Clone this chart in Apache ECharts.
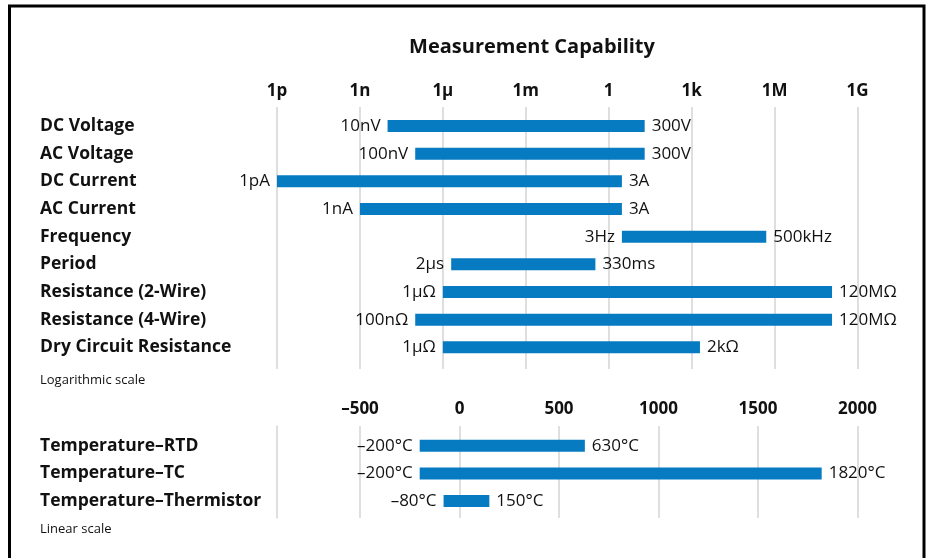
<!DOCTYPE html>
<html>
<head>
<meta charset="utf-8">
<script src="https://cdn.jsdelivr.net/npm/echarts@6/dist/echarts.min.js"></script>
<style>
html,body{margin:0;padding:0;background:#fff;}
#chart{width:927px;height:558px;}
</style>
</head>
<body>
<div id="chart"></div>
<script>
// ---------- data ----------
const logCategories = ['DC Voltage','AC Voltage','DC Current','AC Current','Frequency','Period','Resistance (2-Wire)','Resistance (4-Wire)','Dry Circuit Resistance'];
const logStarts = [1e-8, 1e-7, 1e-12, 1e-9, 3, 2e-6, 1e-6, 1e-7, 1e-6];
const logEnds   = [20, 20, 3, 3, 5e5, 0.33, 1.2e8, 1.2e8, 2e3];
const logLeftLabels  = ['10nV','100nV','1pA','1nA','3Hz','2µs','1µΩ','100nΩ','1µΩ'];
const logRightLabels = ['300V','300V','3A','3A','500kHz','330ms','120MΩ','120MΩ','2kΩ'];
const logTickLabels = ['1p','1n','1µ','1m','1','1k','1M','1G'];

const linCategories = ['Temperature–RTD','Temperature–TC','Temperature–Thermistor'];
const linStarts = [-200, -200, -80];
const linEnds   = [630, 1820, 150];
const linLeftLabels  = ['–200°C','–200°C','–80°C'];
const linRightLabels = ['630°C','1820°C','150°C'];

// ---------- style ----------
const FONT = '"Open Sans", "DejaVu Sans", sans-serif';
const BLUE = '#077bc2';
const TEXT = '#111111';
const GRID = '#d4d4d4';
const BAR_H = 12;
const VAL_FONT = 17;

function makeRender(leftLabels, rightLabels) {
  return function (params, api) {
    const idx = api.value(0);
    const s = api.coord([api.value(1), idx]);
    const e = api.coord([api.value(2), idx]);
    return {
      type: 'group',
      children: [
        { type: 'rect', shape: { x: s[0], y: s[1] - BAR_H / 2, width: e[0] - s[0], height: BAR_H }, style: { fill: BLUE } },
        { type: 'text', style: { x: s[0] - 7, y: s[1], text: leftLabels[idx], align: 'right', verticalAlign: 'middle', fontSize: VAL_FONT, fontFamily: FONT, fill: TEXT } },
        { type: 'text', style: { x: e[0] + 7, y: s[1], text: rightLabels[idx], align: 'left', verticalAlign: 'middle', fontSize: VAL_FONT, fontFamily: FONT, fill: TEXT } }
      ]
    };
  };
}

const logData = logCategories.map((c, i) => [i, Math.log10(logStarts[i]), Math.log10(logEnds[i])]);
const linData = linCategories.map((c, i) => [i, linStarts[i], linEnds[i]]);

const RIGHT = 927 - 857.5;
const LIN_LEFT = 260.5;
const CAT_FONT = 17.5;
const TICK_FONT = 17;

const chart = echarts.init(document.getElementById('chart'));
chart.setOption({
  animation: false,
  backgroundColor: '#fff',
  graphic: [
    { type: 'rect', shape: { x: 9.5, y: 6, width: 914.5, height: 620 }, style: { fill: 'none', stroke: '#000', lineWidth: 3 } },
    { type: 'text', style: { x: 532, y: 47, text: 'Measurement Capability', align: 'center', verticalAlign: 'middle', fontSize: 20, fontWeight: 'bold', fontFamily: FONT, fill: TEXT } },
    { type: 'text', style: { x: 40, y: 380, text: 'Logarithmic scale', align: 'left', verticalAlign: 'middle', fontSize: 13, fontFamily: FONT, fill: TEXT } },
    { type: 'text', style: { x: 40, y: 529, text: 'Linear scale', align: 'left', verticalAlign: 'middle', fontSize: 13, fontFamily: FONT, fill: TEXT } }
  ],
  grid: [
    { left: 277, right: RIGHT, top: 112.2, height: 249 },      // 0 log bars
    { left: 277, right: RIGHT, top: 107, height: 262 },        // 1 log gridlines
    { left: LIN_LEFT, right: RIGHT, top: 431.9, height: 83 },  // 2 lin bars
    { left: LIN_LEFT, right: RIGHT, top: 426, height: 92 }     // 3 lin gridlines
  ],
  xAxis: [
    { gridIndex: 0, type: 'value', min: -12, max: 9, interval: 3, show: false },
    { gridIndex: 1, type: 'value', min: -12, max: 9, interval: 3, position: 'top',
      axisLine: { show: false }, axisTick: { show: false },
      splitLine: { show: true, lineStyle: { color: GRID, width: 1.5 } },
      axisLabel: { margin: 7, fontSize: TICK_FONT, fontWeight: 'bold', fontFamily: FONT, color: TEXT,
        formatter: v => logTickLabels[Math.round((v + 12) / 3)] } },
    { gridIndex: 2, type: 'value', min: -1000, max: 2000, interval: 500, show: false },
    { gridIndex: 3, type: 'value', min: -1000, max: 2000, interval: 500, position: 'top',
      axisLine: { show: false }, axisTick: { show: false },
      splitLine: { show: true, showMinLine: false, lineStyle: { color: GRID, width: 1.5 } },
      axisLabel: { margin: 8, showMinLabel: false, fontSize: TICK_FONT, fontWeight: 'bold', fontFamily: FONT, color: TEXT,
        formatter: v => v < 0 ? '–' + (-v) : String(v) } }
  ],
  yAxis: [
    { gridIndex: 0, type: 'category', data: logCategories, inverse: true,
      axisLine: { show: false }, axisTick: { show: false }, splitLine: { show: false },
      axisLabel: { align: 'left', margin: 277 - 40, fontSize: CAT_FONT, fontWeight: 'bold', fontFamily: FONT, color: TEXT } },
    { gridIndex: 1, type: 'value', show: false },
    { gridIndex: 2, type: 'category', data: linCategories, inverse: true,
      axisLine: { show: false }, axisTick: { show: false }, splitLine: { show: false },
      axisLabel: { align: 'left', margin: LIN_LEFT - 40, fontSize: CAT_FONT, fontWeight: 'bold', fontFamily: FONT, color: TEXT } },
    { gridIndex: 3, type: 'value', offset: -(277 - LIN_LEFT),
      axisLine: { show: true, onZero: false, lineStyle: { color: GRID, width: 1.5 } },
      axisTick: { show: false }, axisLabel: { show: false }, splitLine: { show: false } }
  ],
  series: [
    { type: 'custom', xAxisIndex: 0, yAxisIndex: 0, data: logData, encode: { y: 0, x: [1, 2] },
      renderItem: makeRender(logLeftLabels, logRightLabels) },
    { type: 'custom', xAxisIndex: 2, yAxisIndex: 2, data: linData, encode: { y: 0, x: [1, 2] },
      renderItem: makeRender(linLeftLabels, linRightLabels) }
  ]
});
</script>
</body>
</html>
